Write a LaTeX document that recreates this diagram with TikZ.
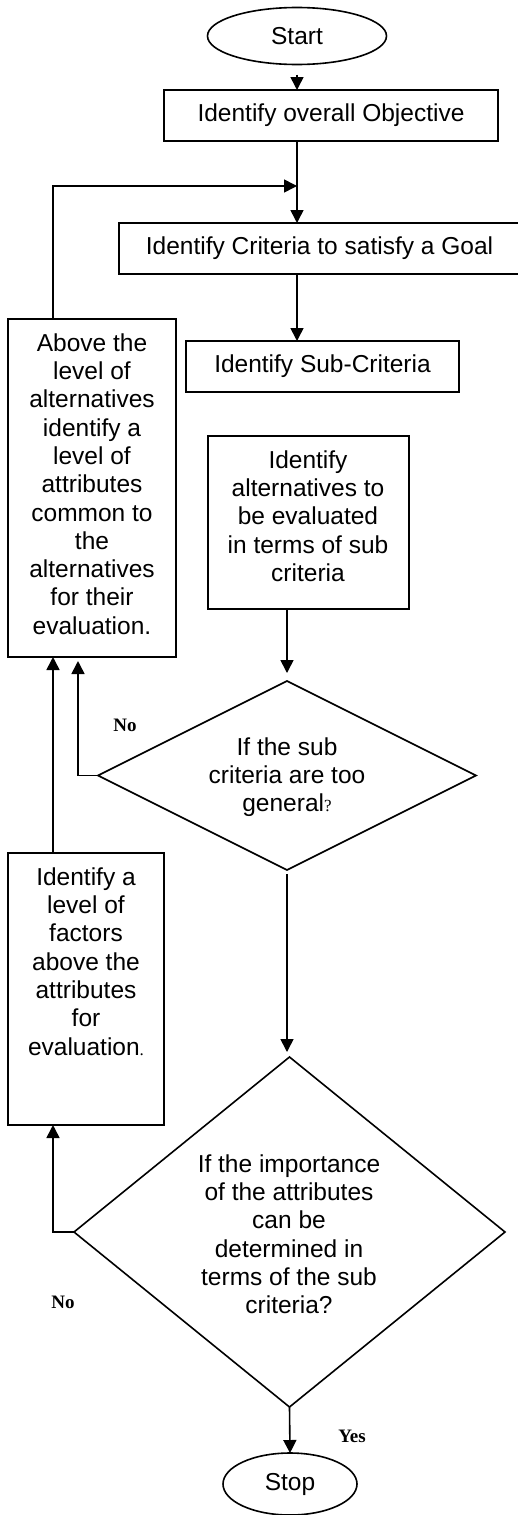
\documentclass[tikz,border=0pt]{standalone}
\usepackage{fontspec}
\setmainfont{Liberation Sans}
\newfontfamily\serifq{Liberation Serif}
\usetikzlibrary{arrows.meta,shapes.geometric}
\tikzset{
  box/.style={draw, line width=1.6pt, inner sep=0pt, outer sep=0pt},
  txt/.style={align=center, inner sep=0pt, anchor=north},
  oval/.style={draw, ellipse, line width=1.6pt, inner sep=0pt, outer sep=0pt},
  dia/.style={draw, diamond, line width=1.6pt, inner sep=0pt, outer sep=0pt},
  arr/.style={line width=1.6pt, -{Triangle[length=13pt,width=13pt]}},
  lbl/.style={font=\serifq\bfseries\fontsize{19}{22}\selectfont, inner sep=0pt}
}
\begin{document}
\begin{tikzpicture}[x=1pt, y=-1pt, font=\fontsize{24.5}{28.3}\selectfont]
\useasboundingbox (0,0) rectangle (518,1515);
\clip (0,0) rectangle (518,1515);
\fill[white] (0,0) rectangle (518,1515);
% nodes
\node[oval, minimum width=179pt, minimum height=57pt] (start) at (297,36) {Start};
\node[box, minimum width=334pt, minimum height=51pt] (obj) at (331,115.5) {Identify overall Objective};
\node[box, minimum width=401pt, minimum height=51pt] (crit) at (319.5,248.5) {Identify Criteria to satisfy a Goal};
\node[box, minimum width=273pt, minimum height=51pt] (sub) at (322.5,366.5) {Identify Sub-Criteria};
\node[box, minimum width=168pt, minimum height=338pt] (abv) at (92,488) {};
\node[txt] (abvtext) at (92,331.2) {\strut Above the\\level of\\alternatives\\identify a\\level of\\attributes\\common to\\the\\alternatives\\for their\\evaluation.};
\node[box, minimum width=201pt, minimum height=173pt] (alt) at (308.5,522.5) {};
\node[txt] (alttext) at (308,448.2) {\strut Identify\\alternatives to\\be evaluated\\in terms of sub\\criteria};
\node[dia, minimum width=378pt, minimum height=189pt] (d1) at (287,775.5) {};
\node[txt] (d1text) at (287,735.2) {\strut If the sub\\criteria are too\\general{\serifq\fontsize{17}{20}\selectfont ?}};
\node[box, minimum width=156pt, minimum height=272pt] (fac) at (86,989) {};
\node[txt] (factext) at (86,865.2) {\strut Identify a\\level of\\factors\\above the\\attributes\\for\\evaluation{\serifq\fontsize{17}{20}\selectfont .}};
\node[dia, minimum width=431pt, minimum height=350pt] (d2) at (289.5,1232) {};
\node[txt] (d2text) at (289,1152.2) {\strut If the importance\\of the attributes\\can be\\determined in\\terms of the sub\\criteria?};
\node[oval, minimum width=134pt, minimum height=62pt] (stop) at (290,1484) {Stop};
\node[lbl] (no1) at (125,725) {No};
\node[lbl] (no2) at (63,1302) {No};
\node[lbl] (yes) at (352,1436) {Yes};
% helper coordinates
\coordinate (fb) at (53,186);
\coordinate (nx1) at (78,0);
\coordinate (nx2) at (53,0);
% connectors
\draw[arr, shorten <=10pt] (start.south) -- (start.south |- obj.north);
\draw[arr] (start.south |- obj.south) -- (start.south |- crit.north);
\draw[arr] (abv.north -| fb) -- (fb) -- (fb -| start.south);
\draw[arr] (start.south |- crit.south) -- (start.south |- sub.north);
\draw[arr, shorten >=8pt] (alt.south -| d1.north) -- (d1.north);
\draw[arr, shorten >=4pt] (d1.west) -- (d1.west -| nx1) -- (nx1 |- abv.south);
\draw[arr, shorten <=4pt, shorten >=5pt] (d1.south) -- (d1.south |- d2.north);
\draw[arr] (d2.west) -- (d2.west -| nx2) -- (nx2 |- fac.south);
\draw[arr] (fac.north -| nx2) -- (nx2 |- abv.south);
\draw[arr] (d2.south) -- (stop.north);
\end{tikzpicture}
\end{document}
